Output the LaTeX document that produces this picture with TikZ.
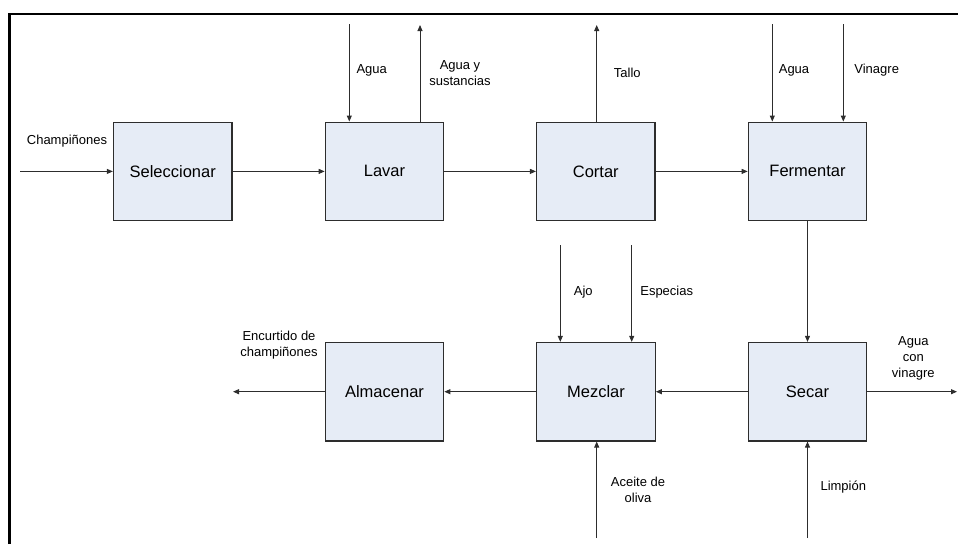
\documentclass[tikz,border=0pt]{standalone}
\usepackage{fontspec}
\setmainfont{Liberation Sans}
\usetikzlibrary{arrows.meta}
\definecolor{boxfill}{RGB}{230,236,246}
\definecolor{edge}{RGB}{45,45,45}
\begin{document}
\begin{tikzpicture}[x=1pt,y=-1pt,
  process/.style={draw=edge,line width=1.2pt,fill=boxfill,minimum width=118.5pt,
    minimum height=98.5pt,inner sep=0pt,font=\fontsize{16.5}{19}\selectfont},
  flow/.style={draw=edge,line width=0.9pt,-{Triangle[length=6pt,width=5pt]}},
  tag/.style={font=\fontsize{13}{16}\selectfont,align=center,inner sep=0pt}]
\useasboundingbox (0,0) rectangle (958,544);
% outer frame
\draw[line width=2.5pt] (9.5,544) |- (958,14);

% process steps
\node[process] (sel) at (172.7,171.4) {Seleccionar};
\node[process] (lav) at (384.5,171.4) {Lavar};
\node[process] (cor) at (595.8,171.4) {Cortar};
\node[process] (fer) at (807.5,171.4) {Fermentar};
\node[process] (alm) at (384.5,391.7) {Almacenar};
\node[process] (mez) at (596,391.7) {Mezclar};
\node[process] (sec) at (807.5,391.7) {Secar};

% free ends of the input and output streams
\coordinate (inChamp) at (20,171.4);
\coordinate (inAguaLav) at (349.3,24);
\coordinate (outAguaLav) at (420,25);
\coordinate (outTallo) at (596.7,25);
\coordinate (inAguaFer) at (772.3,24);
\coordinate (inVinagre) at (843.3,24);
\coordinate (inAjo) at (560.3,245);
\coordinate (inEspecias) at (631.7,245);
\coordinate (inAceite) at (596.7,538);
\coordinate (inLimpion) at (807.5,538);
\coordinate (outAguaVin) at (957,391.7);
\coordinate (outProd) at (233,391.7);

% main flow
\draw[flow] (inChamp) -- (sel.west);
\draw[flow] (sel) -- (lav);
\draw[flow] (lav) -- (cor);
\draw[flow] (cor) -- (fer);
\draw[flow] (fer) -- (sec);
\draw[flow] (sec) -- (mez);
\draw[flow] (mez) -- (alm);
\draw[flow] (alm.west) -- (outProd);

% side streams
\draw[flow] (inAguaLav) -- (inAguaLav |- lav.north);
\draw[flow] (outAguaLav |- lav.north) -- (outAguaLav);
\draw[flow] (outTallo |- cor.north) -- (outTallo);
\draw[flow] (inAguaFer) -- (inAguaFer |- fer.north);
\draw[flow] (inVinagre) -- (inVinagre |- fer.north);
\draw[flow] (inAjo) -- (inAjo |- mez.north);
\draw[flow] (inEspecias) -- (inEspecias |- mez.north);
\draw[flow] (inAceite) -- (inAceite |- mez.south);
\draw[flow] (inLimpion) -- (sec.south);
\draw[flow] (sec.east) -- (outAguaVin);

% stream labels
\node[tag] (tChamp) at (67,140.7) {Champiñones};
\node[tag] (tAguaLav) at (371.7,70.7) {Agua};
\node[tag] (tAguaSus) at (460,73) {Agua y\\sustancias};
\node[tag] (tTallo) at (627.3,72.7) {Tallo};
\node[tag] (tAguaFer) at (794,70.5) {Agua};
\node[tag] (tVinagre) at (876.7,70.5) {Vinagre};
\node[tag] (tAjo) at (583.3,291.7) {Ajo};
\node[tag] (tEspecias) at (666.7,291.7) {Especias};
\node[tag] (tProd) at (279,344.7) {Encurtido de\\champiñones};
\node[tag] (tAguaVin) at (913.3,358.3) {Agua\\con\\vinagre};
\node[tag] (tAceite) at (638,490) {Aceite de\\oliva};
\node[tag] (tLimpion) at (843.3,486.7) {Limpión};
\end{tikzpicture}
\end{document}
